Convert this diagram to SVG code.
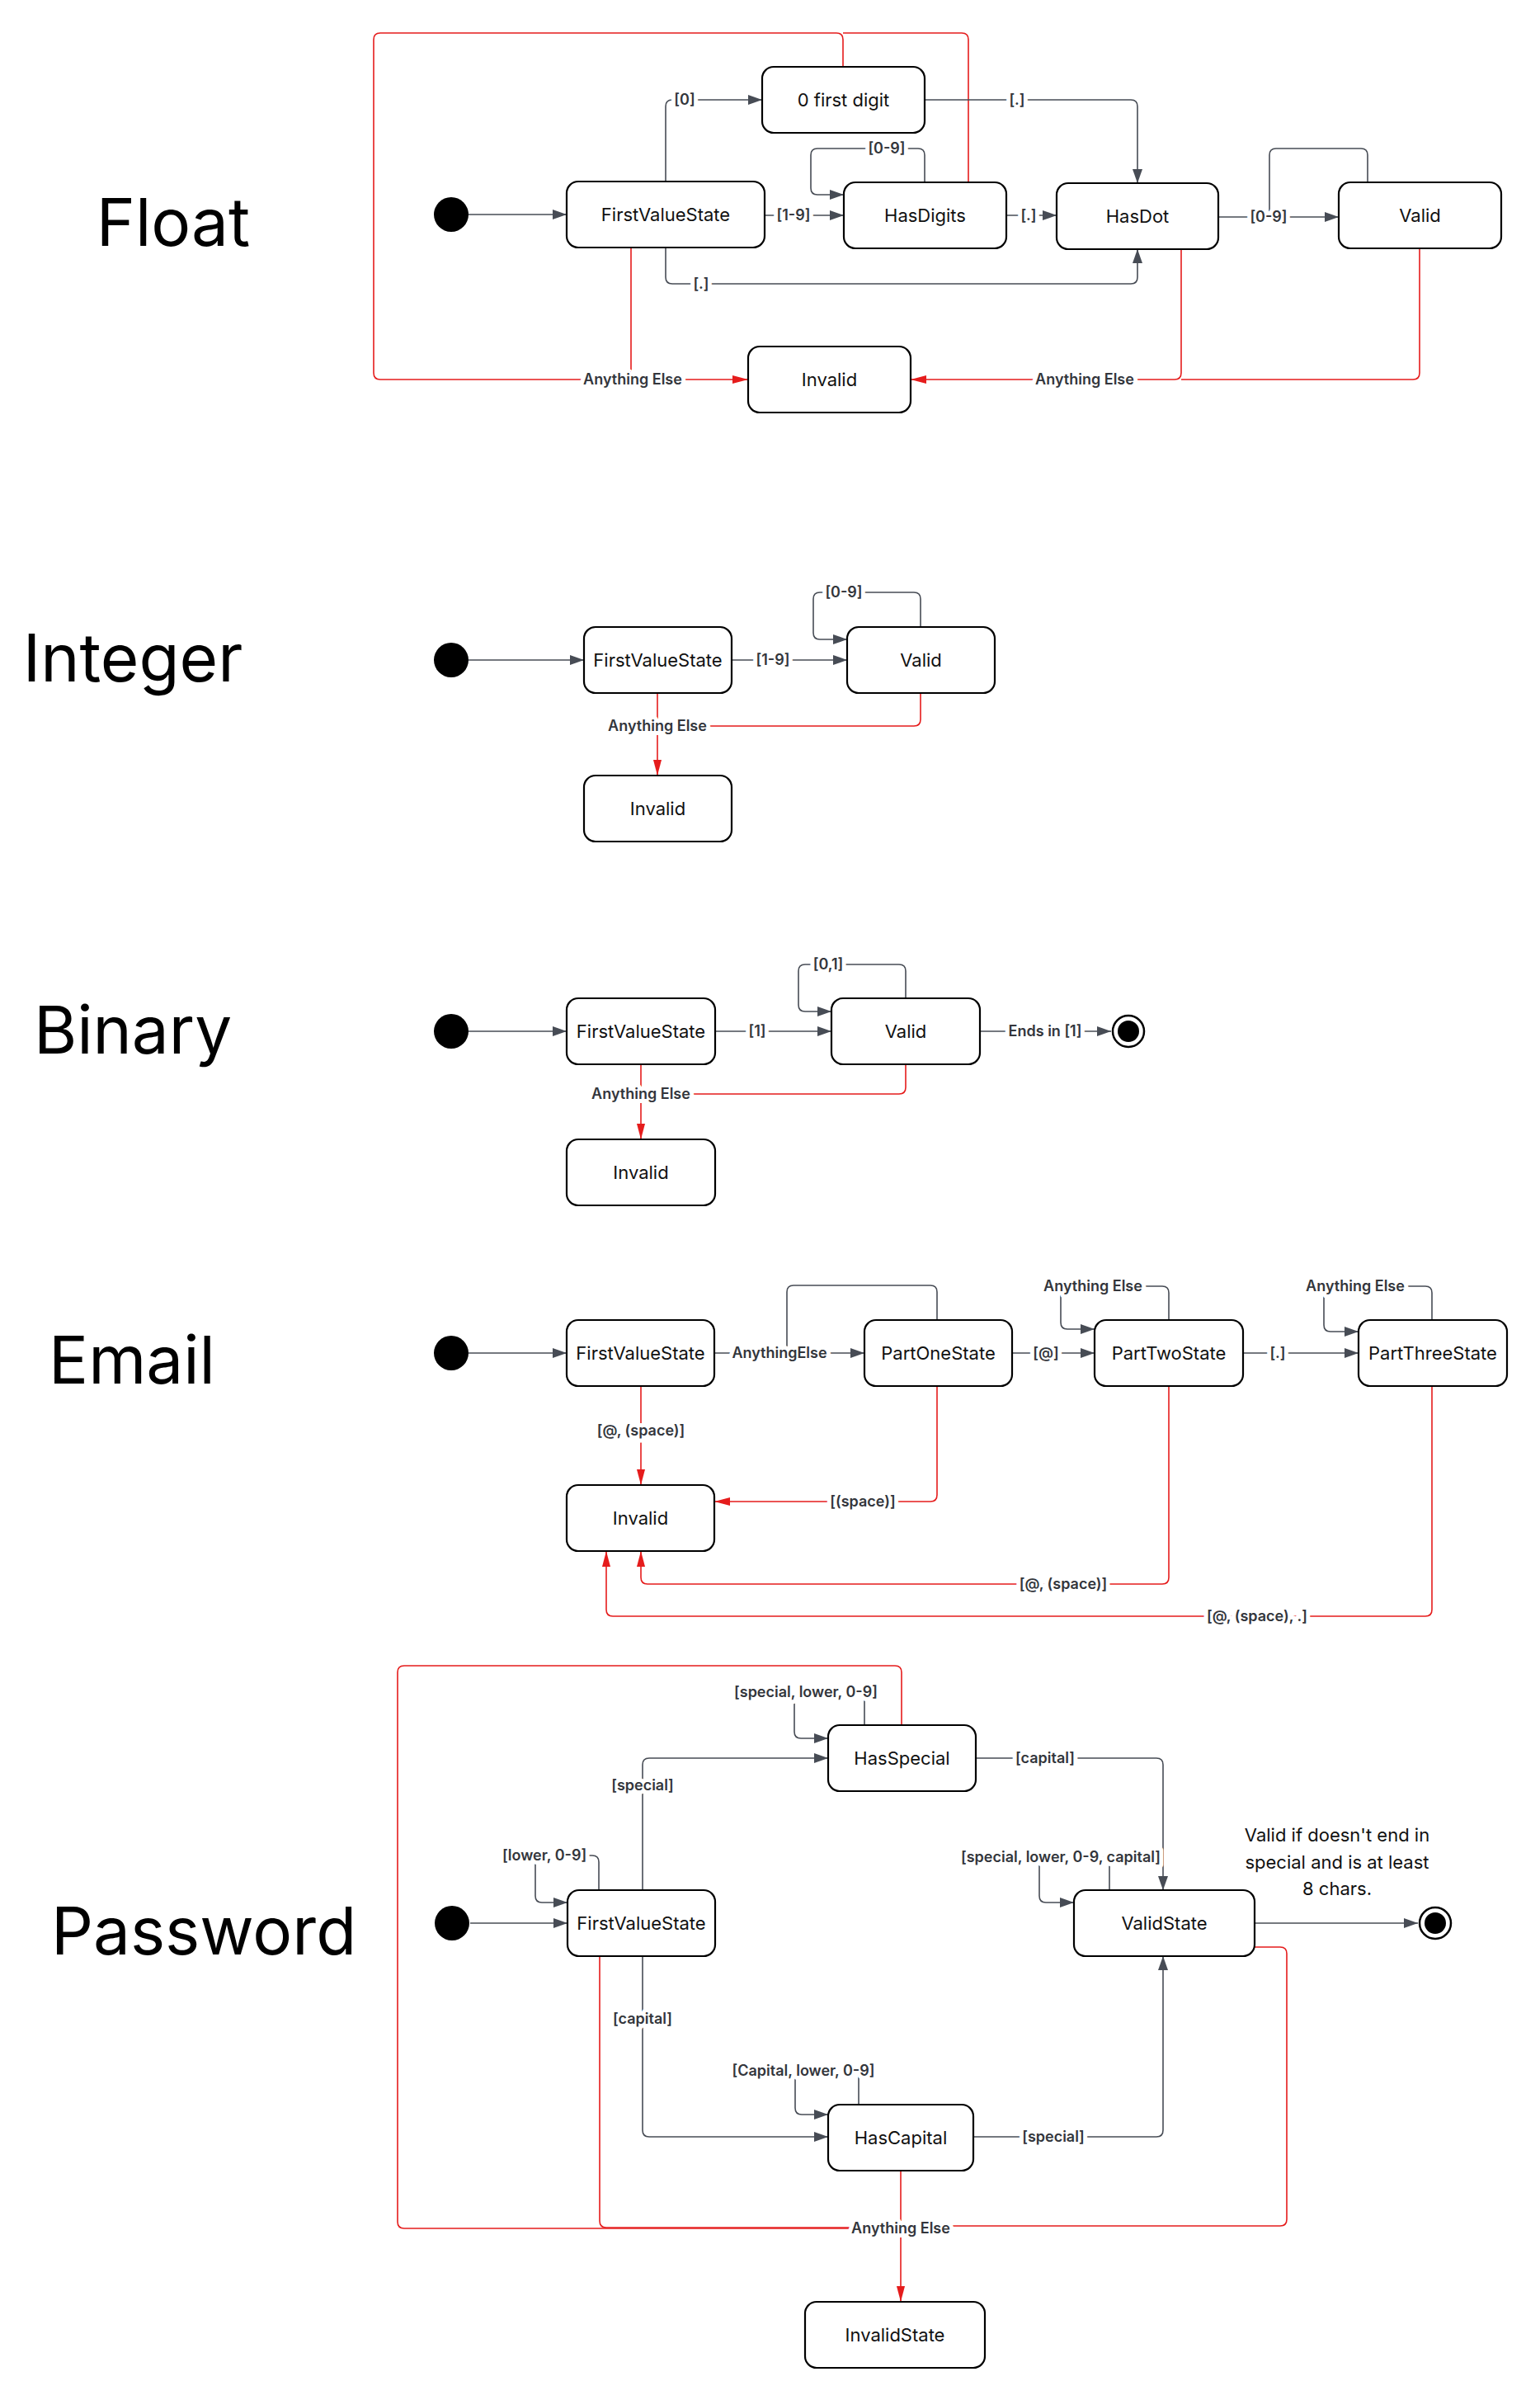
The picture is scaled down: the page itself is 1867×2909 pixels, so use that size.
<svg xmlns="http://www.w3.org/2000/svg" width="1867" height="2909" viewBox="0 0 1867 2909">
<style>
.title{font-family:Inter,"Liberation Sans",sans-serif;font-size:80px;fill:#000;text-anchor:middle}
.node rect{fill:#fff;stroke:#000;stroke-width:2.2}
.node text{font-family:Inter,"Liberation Sans",sans-serif;font-size:22px;fill:#111;text-anchor:middle}
.e{fill:none;stroke:#474c55;stroke-width:1.6}
.r{fill:none;stroke:#e51c1c;stroke-width:1.6}
.lbl{font-family:Inter,"Liberation Sans",sans-serif;font-size:18px;font-weight:600;fill:#33363c;text-anchor:middle;stroke:#fff;stroke-width:10;paint-order:stroke;stroke-linejoin:round}
.note{font-family:Inter,"Liberation Sans",sans-serif;font-size:22px;fill:#111;text-anchor:middle}
.start{fill:#000}
</style>
<defs>
<marker id="ag" markerUnits="userSpaceOnUse" markerWidth="18" markerHeight="12" refX="17" refY="6" orient="auto"><path d="M0,0 L17,6 L0,12 z" fill="#474c55"/></marker>
<marker id="ar" markerUnits="userSpaceOnUse" markerWidth="20" markerHeight="10" refX="19" refY="5" orient="auto"><path d="M0,0 L19,5 L0,10 z" fill="#e51c1c"/></marker>
</defs>
<rect width="1867" height="2909" fill="#fff"/>

<g id="titles">
<text class="title" x="210" y="298">Float</text>
<text class="title" x="161" y="826">Integer</text>
<text class="title" x="161" y="1277">Binary</text>
<text class="title" x="160" y="1677">Email</text>
<text class="title" x="247" y="2369">Password</text>
</g>

<g id="connectors">
<!-- Float -->
<path class="r" d="M1022,81 V48 q0,-8 -8,-8 H461 q-8,0 -8,8 V452 q0,8 8,8 H765"/>
<path class="r" d="M1174,221 V48 q0,-8 -8,-8 H1022"/>
<path class="r" d="M765,300 V460 H907" marker-end="url(#ar)"/>
<path class="r" d="M1721,301 V452 q0,8 -8,8 H1432"/>
<path class="r" d="M1432,302 V452 q0,8 -8,8 H1104" marker-end="url(#ar)"/>
<path class="e" d="M568,260 H687" marker-end="url(#ag)"/>
<path class="e" d="M807,220 V129 q0,-8 8,-8 H924" marker-end="url(#ag)"/>
<path class="e" d="M927,261 H1023" marker-end="url(#ag)"/>
<path class="e" d="M1121,221 V188 q0,-8 -8,-8 H991 q-8,0 -8,8 V228 q0,8 8,8 H1023" marker-end="url(#ag)"/>
<path class="e" d="M1121,121 H1371 q8,0 8,8 V222" marker-end="url(#ag)"/>
<path class="e" d="M1220,261 H1281" marker-end="url(#ag)"/>
<path class="e" d="M807,300 V336 q0,8 8,8 H1371 q8,0 8,-8 V302" marker-end="url(#ag)"/>
<path class="e" d="M1477,263 H1623" marker-end="url(#ag)"/>
<path class="e" d="M1658,221 V188 q0,-8 -8,-8 H1547 q-8,0 -8,8 V256"/>
<text class="lbl" x="830" y="127">[0]</text>
<text class="lbl" x="962" y="267">[1-9]</text>
<text class="lbl" x="1075" y="186">[0-9]</text>
<text class="lbl" x="1233" y="127">[.]</text>
<text class="lbl" x="1247" y="267">[.]</text>
<text class="lbl" x="850" y="350">[.]</text>
<text class="lbl" x="1538" y="269">[0-9]</text>
<text class="lbl" x="767" y="466">Anything Else</text>
<text class="lbl" x="1315" y="466">Anything Else</text>

<!-- Integer -->
<path class="e" d="M568,800 H708" marker-end="url(#ag)"/>
<path class="e" d="M887,800 H1027" marker-end="url(#ag)"/>
<path class="e" d="M1116,760 V726 q0,-8 -8,-8 H994 q-8,0 -8,8 V767 q0,8 8,8 H1027" marker-end="url(#ag)"/>
<path class="r" d="M797,840 V940" marker-end="url(#ar)"/>
<path class="r" d="M1116,840 V872 q0,8 -8,8 H797"/>
<text class="lbl" x="937" y="806">[1-9]</text>
<text class="lbl" x="1023" y="724">[0-9]</text>
<text class="lbl" x="797" y="886">Anything Else</text>

<!-- Binary -->
<path class="e" d="M568,1250 H687" marker-end="url(#ag)"/>
<path class="e" d="M867,1250 H1008" marker-end="url(#ag)"/>
<path class="e" d="M1098,1210 V1177 q0,-8 -8,-8 H976 q-8,0 -8,8 V1218 q0,8 8,8 H1008" marker-end="url(#ag)"/>
<path class="e" d="M1188,1250 H1347" marker-end="url(#ag)"/>
<path class="r" d="M777,1290 V1381" marker-end="url(#ar)"/>
<path class="r" d="M1098,1290 V1318 q0,8 -8,8 H777"/>
<text class="lbl" x="918" y="1256">[1]</text>
<text class="lbl" x="1004" y="1175">[0,1]</text>
<text class="lbl" x="1267" y="1256">Ends in [1]</text>
<text class="lbl" x="777" y="1332">Anything Else</text>

<!-- Email -->
<path class="e" d="M568,1640 H687" marker-end="url(#ag)"/>
<path class="e" d="M866,1640 H1048" marker-end="url(#ag)"/>
<path class="e" d="M1136,1600 V1566 q0,-8 -8,-8 H962 q-8,0 -8,8 V1632"/>
<path class="e" d="M1227,1640 H1327" marker-end="url(#ag)"/>
<path class="e" d="M1507,1640 H1647" marker-end="url(#ag)"/>
<path class="e" d="M1417,1600 V1567 q0,-8 -8,-8 H1294 q-8,0 -8,8 V1603 q0,8 8,8 H1327" marker-end="url(#ag)"/>
<path class="e" d="M1736,1600 V1567 q0,-8 -8,-8 H1613 q-8,0 -8,8 V1606 q0,8 8,8 H1647" marker-end="url(#ag)"/>
<path class="r" d="M777,1680 V1800" marker-end="url(#ar)"/>
<path class="r" d="M1136,1680 V1812 q0,8 -8,8 H866" marker-end="url(#ar)"/>
<path class="r" d="M1417,1680 V1912 q0,8 -8,8 H785 q-8,0 -8,-8 V1880" marker-end="url(#ar)"/>
<path class="r" d="M1736,1680 V1951 q0,8 -8,8 H743 q-8,0 -8,-8 V1880" marker-end="url(#ar)"/>
<text class="lbl" x="945" y="1646">AnythingElse</text>
<text class="lbl" x="1268" y="1646">[@]</text>
<text class="lbl" x="1549" y="1646">[.]</text>
<text class="lbl" x="1325" y="1565">Anything Else</text>
<text class="lbl" x="1643" y="1565">Anything Else</text>
<text class="lbl" x="777" y="1740">[@, (space)]</text>
<text class="lbl" x="1046" y="1826">[(space)]</text>
<text class="lbl" x="1289" y="1926">[@, (space)]</text>
<text class="lbl" x="1524" y="1965">[@, (space), .]</text>

<!-- Password -->
<path class="r" d="M1093,2091 V2027 q0,-8 -8,-8 H490 q-8,0 -8,8 V2693 q0,8 8,8 H1092"/>
<path class="r" d="M727,2371 V2692 q0,8 8,8 H1092"/>
<path class="r" d="M1521,2360 H1552 q8,0 8,8 V2690 q0,8 -8,8 H1092"/>
<path class="r" d="M1092,2631 V2790" marker-end="url(#ar)"/>
<path class="e" d="M570,2331 H688" marker-end="url(#ag)"/>
<path class="e" d="M779,2291 V2139 q0,-8 8,-8 H1004" marker-end="url(#ag)"/>
<path class="e" d="M1048,2091 V2059 q0,-8 -8,-8 H971 q-8,0 -8,8 V2099 q0,8 8,8 H1004" marker-end="url(#ag)"/>
<path class="e" d="M1183,2131 H1402 q8,0 8,8 V2291" marker-end="url(#ag)"/>
<path class="e" d="M726,2291 V2257 q0,-8 -8,-8 H657 q-8,0 -8,8 V2298 q0,8 8,8 H688" marker-end="url(#ag)"/>
<path class="e" d="M1345,2291 V2259 q0,-8 -8,-8 H1268 q-8,0 -8,8 V2298 q0,8 8,8 H1302" marker-end="url(#ag)"/>
<path class="e" d="M1521,2331 H1719" marker-end="url(#ag)"/>
<path class="e" d="M779,2371 V2582 q0,8 8,8 H1004" marker-end="url(#ag)"/>
<path class="e" d="M1041,2551 V2518 q0,-8 -8,-8 H972 q-8,0 -8,8 V2555 q0,8 8,8 H1004" marker-end="url(#ag)"/>
<path class="e" d="M1180,2590 H1402 q8,0 8,-8 V2371" marker-end="url(#ag)"/>
<text class="lbl" x="779" y="2170">[special]</text>
<text class="lbl" x="977" y="2057">[special, lower, 0-9]</text>
<text class="lbl" x="1267" y="2137">[capital]</text>
<text class="lbl" x="660" y="2255">[lower, 0-9]</text>
<text class="lbl" x="1286" y="2257">[special, lower, 0-9, capital]</text>
<text class="lbl" x="779" y="2453">[capital]</text>
<text class="lbl" x="974" y="2516">[Capital, lower, 0-9]</text>
<text class="lbl" x="1277" y="2596">[special]</text>
<text class="lbl" x="1092" y="2707">Anything Else</text>
</g>

<!-- Float nodes -->
<g id="float-start"><circle class="start" cx="547" cy="260" r="21"/></g>
<g id="float-fvs" class="node"><rect x="687" y="220" width="240" height="80" rx="14"/><text x="807" y="268">FirstValueState</text></g>
<g id="float-zero" class="node"><rect x="924" y="81" width="197" height="80" rx="14"/><text x="1022.5" y="129">0 first digit</text></g>
<g id="float-hasdigits" class="node"><rect x="1023" y="221" width="197" height="80" rx="14"/><text x="1121.5" y="269">HasDigits</text></g>
<g id="float-hasdot" class="node"><rect x="1281" y="222" width="196" height="80" rx="14"/><text x="1379" y="270">HasDot</text></g>
<g id="float-valid" class="node"><rect x="1623" y="221" width="197" height="80" rx="14"/><text x="1721.5" y="269">Valid</text></g>
<g id="float-invalid" class="node"><rect x="907" y="420" width="197" height="80" rx="14"/><text x="1005.5" y="468">Invalid</text></g>

<!-- Integer nodes -->
<g id="int-start"><circle class="start" cx="547" cy="800" r="21"/></g>
<g id="int-fvs" class="node"><rect x="708" y="760" width="179" height="80" rx="14"/><text x="797.5" y="808">FirstValueState</text></g>
<g id="int-valid" class="node"><rect x="1027" y="760" width="179" height="80" rx="14"/><text x="1116.5" y="808">Valid</text></g>
<g id="int-invalid" class="node"><rect x="708" y="940" width="179" height="80" rx="14"/><text x="797.5" y="988">Invalid</text></g>

<!-- Binary nodes -->
<g id="bin-start"><circle class="start" cx="547" cy="1250" r="21"/></g>
<g id="bin-fvs" class="node"><rect x="687" y="1210" width="180" height="80" rx="14"/><text x="777" y="1258">FirstValueState</text></g>
<g id="bin-valid" class="node"><rect x="1008" y="1210" width="180" height="80" rx="14"/><text x="1098" y="1258">Valid</text></g>
<g id="bin-invalid" class="node"><rect x="687" y="1381" width="180" height="80" rx="14"/><text x="777" y="1429">Invalid</text></g>
<g id="bin-end"><circle cx="1368" cy="1250" r="19" fill="#fff" stroke="#000" stroke-width="2.5"/><circle cx="1368" cy="1250" r="13" fill="#000"/></g>

<!-- Email nodes -->
<g id="email-start"><circle class="start" cx="547" cy="1640" r="21"/></g>
<g id="email-fvs" class="node"><rect x="687" y="1600" width="179" height="80" rx="14"/><text x="776.5" y="1648">FirstValueState</text></g>
<g id="email-p1" class="node"><rect x="1048" y="1600" width="179" height="80" rx="14"/><text x="1137.5" y="1648">PartOneState</text></g>
<g id="email-p2" class="node"><rect x="1327" y="1600" width="180" height="80" rx="14"/><text x="1417" y="1648">PartTwoState</text></g>
<g id="email-p3" class="node"><rect x="1647" y="1600" width="180" height="80" rx="14"/><text x="1737" y="1648">PartThreeState</text></g>
<g id="email-invalid" class="node"><rect x="687" y="1800" width="179" height="80" rx="14"/><text x="776.5" y="1848">Invalid</text></g>

<!-- Password nodes -->
<g id="pw-start"><circle class="start" cx="548" cy="2331" r="21"/></g>
<g id="pw-fvs" class="node"><rect x="688" y="2291" width="179" height="80" rx="14"/><text x="777.5" y="2339">FirstValueState</text></g>
<g id="pw-hasspecial" class="node"><rect x="1004" y="2091" width="179" height="80" rx="14"/><text x="1093.5" y="2139">HasSpecial</text></g>
<g id="pw-valid" class="node"><rect x="1302" y="2291" width="219" height="80" rx="14"/><text x="1411.5" y="2339">ValidState</text></g>
<g id="pw-hascapital" class="node"><rect x="1004" y="2551" width="176" height="80" rx="14"/><text x="1092" y="2599">HasCapital</text></g>
<g id="pw-invalid" class="node"><rect x="976" y="2790" width="218" height="80" rx="14"/><text x="1085" y="2838">InvalidState</text></g>
<g id="pw-end"><circle cx="1740" cy="2331" r="19" fill="#fff" stroke="#000" stroke-width="2.5"/><circle cx="1740" cy="2331" r="13" fill="#000"/></g>
<g id="pw-note">
<text class="note" x="1621" y="2232">Valid if doesn't end in</text>
<text class="note" x="1621" y="2265">special and is at least</text>
<text class="note" x="1621" y="2297">8 chars.</text>
</g>
</svg>
